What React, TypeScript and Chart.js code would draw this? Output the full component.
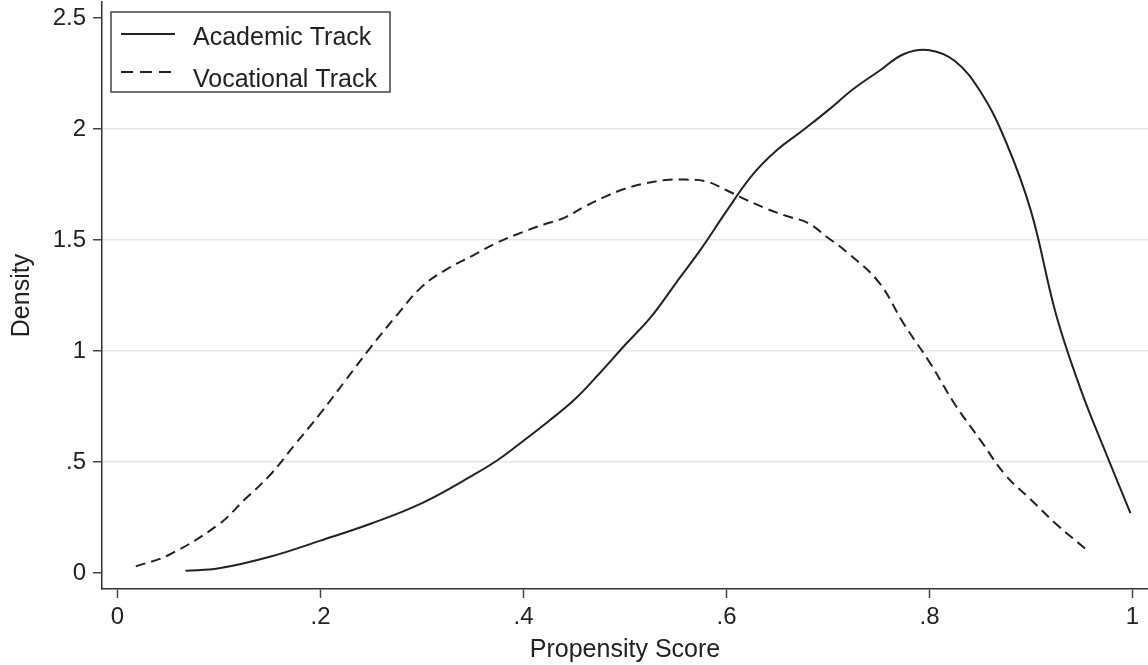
import React, { useEffect, useRef } from "react";
import { Chart, registerables } from "chart.js";

Chart.register(...registerables);

const seriesNames = ["Academic Track", "Vocational Track"];

const academicX = [0.067, 0.1, 0.15, 0.2, 0.25, 0.3, 0.35, 0.375, 0.4, 0.425, 0.45, 0.475, 0.5, 0.525, 0.55, 0.575, 0.6, 0.625, 0.65, 0.675, 0.7, 0.725, 0.75, 0.775, 0.8, 0.825, 0.85, 0.875, 0.9, 0.925, 0.95, 0.975, 0.998];
const academicY = [0.01, 0.021, 0.073, 0.146, 0.223, 0.315, 0.44, 0.51, 0.596, 0.685, 0.78, 0.9, 1.027, 1.15, 1.305, 1.46, 1.63, 1.79, 1.906, 1.993, 2.084, 2.18, 2.26, 2.338, 2.355, 2.306, 2.17, 1.946, 1.63, 1.16, 0.815, 0.527, 0.27];

const vocationalX = [0.018, 0.05, 0.1, 0.125, 0.15, 0.175, 0.2, 0.225, 0.25, 0.275, 0.3, 0.325, 0.35, 0.375, 0.4, 0.42, 0.44, 0.46, 0.48, 0.5, 0.52, 0.54, 0.56, 0.58, 0.6, 0.62, 0.64, 0.66, 0.68, 0.7, 0.72, 0.75, 0.775, 0.8, 0.825, 0.85, 0.875, 0.9, 0.925, 0.956];
const vocationalY = [0.03, 0.08, 0.22, 0.33, 0.44, 0.58, 0.72, 0.87, 1.02, 1.16, 1.29, 1.37, 1.43, 1.49, 1.537, 1.57, 1.6, 1.65, 1.694, 1.731, 1.755, 1.77, 1.772, 1.764, 1.724, 1.68, 1.64, 1.607, 1.577, 1.51, 1.44, 1.31, 1.12, 0.95, 0.76, 0.6, 0.44, 0.33, 0.22, 0.1];

const xTicks = [0, 0.2, 0.4, 0.6, 0.8, 1];
const xTickLabels = ["0", ".2", ".4", ".6", ".8", "1"];
const yTicks = [0, 0.5, 1, 1.5, 2, 2.5];
const yTickLabels = ["0", ".5", "1", "1.5", "2", "2.5"];

const xTitle = "Propensity Score";
const yTitle = "Density";

const FONT = "'Liberation Sans', Arial, Helvetica, sans-serif";
const INK = "#222";

export default function App() {
  const ref = useRef<HTMLCanvasElement>(null);

  useEffect(() => {
    document.body.style.margin = "0";
    const canvas = ref.current;
    if (!canvas) return;

    const legendPlugin = {
      id: "boxLegend",
      afterDraw(chart: any) {
        const ctx = chart.ctx;
        ctx.save();
        ctx.fillStyle = "#fff";
        ctx.fillRect(111, 12, 279, 80);
        ctx.strokeStyle = "#444";
        ctx.lineWidth = 1.5;
        ctx.strokeRect(111, 12, 279, 80);
        ctx.strokeStyle = INK;
        ctx.lineWidth = 2;
        ctx.beginPath();
        ctx.moveTo(121, 34);
        ctx.lineTo(175, 34);
        ctx.stroke();
        ctx.setLineDash([12, 7]);
        ctx.beginPath();
        ctx.moveTo(121, 72);
        ctx.lineTo(175, 72);
        ctx.stroke();
        ctx.setLineDash([]);
        ctx.fillStyle = INK;
        ctx.font = `25px ${FONT}`;
        ctx.textBaseline = "alphabetic";
        ctx.textAlign = "left";
        ctx.fillText(seriesNames[0], 193, 45);
        ctx.fillText(seriesNames[1], 193, 87);
        ctx.restore();
      },
    };

    const chart = new Chart(canvas, {
      type: "line",
      data: {
        datasets: [
          {
            label: seriesNames[0],
            data: academicX.map((x, i) => ({ x, y: academicY[i] })),
            borderColor: INK,
            borderWidth: 2,
            pointRadius: 0,
            fill: false,
            tension: 0.4,
          },
          {
            label: seriesNames[1],
            data: vocationalX.map((x, i) => ({ x, y: vocationalY[i] })),
            borderColor: INK,
            borderWidth: 2,
            borderDash: [10, 6],
            pointRadius: 0,
            fill: false,
            tension: 0.4,
          },
        ],
      },
      options: {
        animation: false,
        responsive: false,
        layout: { padding: { top: 2, right: 0, left: 0, bottom: 0 } },
        plugins: { legend: { display: false }, tooltip: { enabled: false } },
        scales: {
          x: {
            type: "linear",
            min: -0.0153,
            max: 1.0153,
            afterBuildTicks: (s: any) => {
              s.ticks = xTicks.map((v) => ({ value: v }));
            },
            afterFit: (s: any) => {
              s.height = 76;
              s.paddingLeft = 0;
              s.paddingRight = 0;
            },
            ticks: {
              autoSkip: false,
              maxRotation: 0,
              padding: 5,
              color: INK,
              font: { family: FONT, size: 24 },
              callback: (_v: any, i: number) => xTickLabels[i],
            },
            grid: {
              drawOnChartArea: false,
              tickLength: 9,
              tickColor: "#444",
              tickWidth: 1.5,
            },
            border: { color: "#333", width: 1.5 },
            title: {
              display: true,
              text: xTitle,
              color: INK,
              font: { family: FONT, size: 25 },
              padding: { top: 0, bottom: 0 },
            },
          },
          y: {
            type: "linear",
            min: -0.0721,
            max: 2.5721,
            afterBuildTicks: (s: any) => {
              s.ticks = yTicks.map((v) => ({ value: v }));
            },
            afterFit: (s: any) => {
              s.width = 102;
              s.paddingTop = 0;
              s.paddingBottom = 0;
            },
            ticks: {
              autoSkip: false,
              padding: 7,
              color: INK,
              font: { family: FONT, size: 24 },
              callback: (_v: any, i: number) => yTickLabels[i],
            },
            grid: {
              color: (c: any) =>
                c.tick && (c.tick.value === 0 || c.tick.value === 2.5) ? "rgba(0,0,0,0)" : "#e6e6e6",
              lineWidth: 1.5,
              tickLength: 9,
              tickColor: "#444",
              tickWidth: 1.5,
            },
            border: { color: "#333", width: 1.5 },
            title: {
              display: true,
              text: yTitle,
              color: INK,
              font: { family: FONT, size: 25 },
              padding: { top: 7, bottom: 0 },
            },
          },
        },
      },
      plugins: [legendPlugin],
    } as any);

    return () => chart.destroy();
  }, []);

  return (
    <div style={{ width: 1148, height: 665, position: "relative", background: "#fff" }}>
      <canvas ref={ref} width={1148} height={665} />
    </div>
  );
}
